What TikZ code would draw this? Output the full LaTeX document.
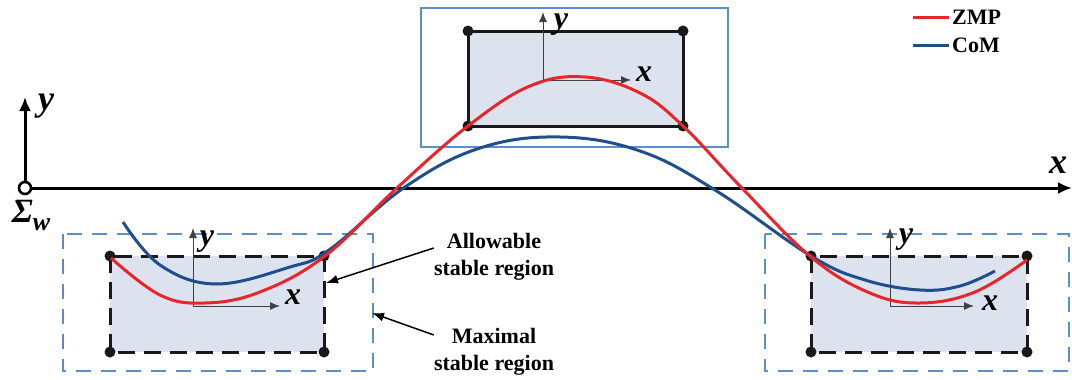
\documentclass[tikz,border=0pt]{standalone}
\usepackage{fontspec}
\setmainfont{Liberation Serif}
\usetikzlibrary{arrows.meta}
\definecolor{fillblue}{HTML}{DCE3EF}
\definecolor{boxblue}{HTML}{5B8FCB}
\definecolor{zmpred}{HTML}{E8262A}
\definecolor{comblue}{HTML}{1F4E8C}
\tikzset{
  axis/.style={line width=3pt,-{Latex[length=14pt,width=12pt]}},
  laxis/.style={line width=1pt,draw=black!75,-{Latex[length=10pt,width=8pt]}},
  bigvar/.style={font=\fontsize{36}{36}\selectfont\bfseries\itshape,inner sep=0pt},
  locvar/.style={font=\fontsize{32}{32}\selectfont\bfseries\itshape,inner sep=0pt},
  lbl/.style={font=\fontsize{22}{27}\selectfont\bfseries,align=center,inner sep=0pt},
  allow/.style={draw=black!90,line width=3pt,fill=fillblue},
  allowd/.style={allow,dash pattern=on 17pt off 9pt},
  maxs/.style={draw=boxblue,line width=2.8pt},
  maxd/.style={maxs,dash pattern=on 15pt off 10pt},
  dot/.style={circle,fill=black!90,inner sep=0pt,minimum size=11pt},
  zmp/.style={draw=zmpred,line width=3pt},
  com/.style={draw=comblue,line width=3pt},
  pointer/.style={line width=1.5pt,-{Latex[length=12pt,width=9pt]}}
}
\begin{document}
\begin{tikzpicture}[x=1pt,y=-1pt]
\useasboundingbox (0,0) rectangle (1072,380);
% maximal regions
\draw[maxs] (421,8) rectangle (728,147);
\draw[maxd] (63,234) rectangle (373,371);
\draw[maxd] (765,234) rectangle (1069,371);
% allowable regions
\draw[allow] (468,31) rectangle (683,126);
\draw[allowd] (110,256) rectangle (324,352);
\draw[allowd] (811,256) rectangle (1027,352);
% corner dots
\node[dot] (a1) at (468,31) {};
\node[dot] (a2) at (683,31) {};
\node[dot] (a3) at (468,126) {};
\node[dot] (a4) at (683,126) {};
\node[dot] (b1) at (110,256) {};
\node[dot] (b2) at (324,256) {};
\node[dot] (b3) at (110,352) {};
\node[dot] (b4) at (324,352) {};
\node[dot] (c1) at (811,256) {};
\node[dot] (c2) at (1027,256) {};
\node[dot] (c3) at (811,352) {};
\node[dot] (c4) at (1027,352) {};
% world frame
\coordinate (O) at (25,188);
\coordinate (Xend) at (1072,188);
\coordinate (Yend) at (25,97);
\draw[axis] (O) -- (Xend);
\draw[axis] (O) -- (Yend);
\node[circle,draw=black,line width=2.6pt,fill=white,minimum size=12pt,inner sep=0pt] (Oc) at (O) {};
\node[bigvar] (wx) at (1058,165) {x};
\node[bigvar] (wy) at (46,106) {y};
\node[font=\fontsize{34}{34}\selectfont\bfseries\itshape,inner sep=0pt] (sig) at (31,215) {Σ\raisebox{-8pt}{\fontsize{26}{26}\selectfont w}};
% local frames
\coordinate (o1) at (543,80); \coordinate (o1x) at (631,80); \coordinate (o1y) at (543,12);
\coordinate (o2) at (193,306); \coordinate (o2x) at (280,306); \coordinate (o2y) at (193,228);
\coordinate (o3) at (890,306); \coordinate (o3x) at (974,306); \coordinate (o3y) at (890,228);
\draw[laxis] (o1) -- (o1x);
\draw[laxis] (o1) -- (o1y);
\draw[laxis] (o2) -- (o2x);
\draw[laxis] (o2) -- (o2y);
\draw[laxis] (o3) -- (o3x);
\draw[laxis] (o3) -- (o3y);
\node[locvar] (l1x) at (644,74) {x};
\node[locvar] (l1y) at (561,25) {y};
\node[locvar] (l2x) at (293,297) {x};
\node[locvar] (l2y) at (207,242) {y};
\node[locvar] (l3x) at (990,303) {x};
\node[locvar] (l3y) at (906,240) {y};
% trajectories
\draw[com] plot[smooth,tension=0.65] coordinates {(123,222) (160,265) (216,284) (290,267) (329,250) (405,187) (480,148) (560,137) (640,151) (715,190) (811,256) (865,280) (920,290) (960,286) (995,271)};
\draw[zmp] plot[smooth,tension=0.65] coordinates {(111,258) (160,295) (205,303) (260,292) (325,256) (398,187) (468,126) (530,86) (585,77) (640,93) (683,126) (740,186) (811,257) (870,293) (920,303) (975,292) (1027,260)};
% legend
\coordinate (lz1) at (913,17); \coordinate (lz2) at (949,17);
\coordinate (lc1) at (913,45); \coordinate (lc2) at (949,45);
\draw[zmp] (lz1) -- (lz2);
\draw[com] (lc1) -- (lc2);
\node[lbl,anchor=west] (tz) at (952,17) {ZMP};
\node[lbl,anchor=west] (tc) at (952,45) {CoM};
% labels
\node[lbl] (allow) at (494,257) {Allowable\\stable region};
\node[lbl] (maxl) at (494,352) {Maximal\\stable region};
\coordinate (ta) at (326,283);
\coordinate (tm) at (372,313);
\draw[pointer] (allow.west |- 0,248) -- (ta);
\draw[pointer] (maxl.west |- 0,335) -- (tm);
\end{tikzpicture}
\end{document}
